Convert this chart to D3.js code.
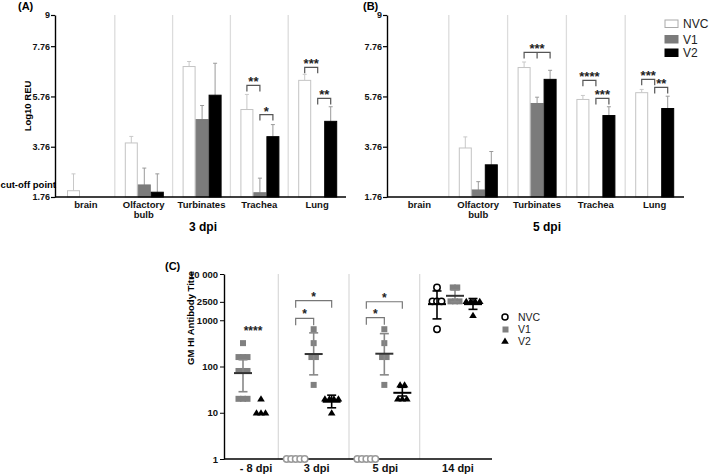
<!DOCTYPE html>
<html><head><meta charset="utf-8">
<script src="https://cdn.jsdelivr.net/npm/d3@7"></script>
<style>
html,body{margin:0;padding:0;background:#fff;}
svg{display:block;font-family:"Liberation Sans",Arial,sans-serif;}
</style></head>
<body><svg id="c" width="709" height="474"></svg>
<script>
// ---------- DATA ----------
const organs = ["brain", "Olfactory bulb", "Turbinates", "Trachea", "Lung"];
const groups = ["NVC", "V1", "V2"];
const reuTicks = [1.76, 3.76, 5.76, 7.76, 9];

// 3 dpi: bar top (Log10 REU) and top of error bar; null = not detected
const dpi3NVC    = [2.01, 3.91, 6.95, 5.24, 6.40];
const dpi3NVCerr = [2.68, 4.17, 7.15, 5.84, 6.64];
const dpi3V1     = [null, 2.24, 4.84, 1.93, null];
const dpi3V1err  = [null, 2.91, 5.40, 2.51, null];
const dpi3V2     = [null, 1.95, 5.81, 4.16, 4.77];
const dpi3V2err  = [null, 2.68, 7.08, 4.64, 5.35];

// 5 dpi
const dpi5NVC    = [null, 3.71, 6.91, 5.64, 5.91];
const dpi5NVCerr = [null, 4.15, 7.13, 5.80, 6.04];
const dpi5V1     = [null, 2.04, 5.48, null, null];
const dpi5V1err  = [null, 2.37, 5.73, null, null];
const dpi5V2     = [null, 3.04, 6.44, 5.00, 5.28];
const dpi5V2err  = [null, 3.57, 6.80, 5.35, 5.77];

// significance annotations (y = bracket height in Log10 REU)
const sig3 = [
  {organ: "Trachea", from: "NVC", to: "V1", y: 6.20, label: "**"},
  {organ: "Trachea", from: "V1",  to: "V2", y: 5.04, label: "*"},
  {organ: "Lung",    from: "NVC", to: "V1", y: 6.92, label: "***"},
  {organ: "Lung",    from: "V1",  to: "V2", y: 5.68, label: "**"}
];
const sig5 = [
  {organ: "Turbinates", from: "NVC", to: "V2", split: "V1", y: 7.51, label: "***"},
  {organ: "Trachea", from: "NVC", to: "V1", y: 6.40, label: "****"},
  {organ: "Trachea", from: "V1",  to: "V2", y: 5.68, label: "***"},
  {organ: "Lung",    from: "NVC", to: "V1", y: 6.44, label: "***"},
  {organ: "Lung",    from: "V1",  to: "V2", y: 6.12, label: "**"}
];

// Panel C: HI antibody titres
const titreDays = ["- 8 dpi", "3 dpi", "5 dpi", "14 dpi"];
const titreTicks = [1, 10, 100, 1000, 2500, 10000];
const titreTickLabels = ["1", "10", "100", "1000", "2500", "10 000"];
const nvcTitres = [[], [1, 1, 1, 1, 1], [1, 1, 1, 1, 1], [5120, 2560, 2560, 2560, 640]];
const v1Titres  = [[320, 160, 160, 160, 80, 80, 80, 20, 20, 20], [640, 320, 160, 160, 40], [640, 320, 160, 160, 40], [5120, 5120, 2560, 2560, 2560]];
const v2Titres  = [[20, 10, 10, 10], [20, 20, 20, 20, 10], [40, 40, 20, 20, 20], [2560, 2560, 2560, 2560, 1280]];
// geometric mean, lower, upper error
const nvcStats = [null, null, null, [2229, 1070, 4300]];
const v1Stats  = [[72, 28.5, 140], [186, 66, 534], [189, 66, 514], [3378, 2510, 4530]];
const v2Stats  = [null, [17.3, 12.8, 24], [27, 23, 35.5], [2229, 1720, 2950]];
const sigC = [
  {day: 0, from: "V1",  to: "V2", y: 480,  label: "****", noBracket: true},
  {day: 1, from: "NVC", to: "V1", y: 1100, label: "*"},
  {day: 1, from: "NVC", to: "V2", y: 2650, label: "*"},
  {day: 2, from: "NVC", to: "V1", y: 1135, label: "*"},
  {day: 2, from: "NVC", to: "V2", y: 2510, label: "*"}
];

// ---------- DRAW ----------
const svg = d3.select("#c");
const fill = {NVC: "#ffffff", V1: "#7b7b7b", V2: "#000000"};
const stroke = {NVC: "#c4c4c4", V1: "#7b7b7b", V2: "#000000"};
const errCol = {NVC: "#c8c8c8", V1: "#9a9a9a", V2: "#9a9a9a"};

function barPanel(cfg) {
  const g = svg.append("g");
  const y = d3.scaleLinear().domain([1.76, 9]).range([197, 15]);
  const x0 = d3.scaleBand().domain(organs).range(cfg.xr);
  const x1 = d3.scaleBand().domain(groups).range([10, 49]);
  const cx = (o, s) => x0(o) + x1(s) + x1.bandwidth() / 2;

  g.selectAll("line.div").data(organs.slice(1)).join("line")
    .attr("x1", d => x0(d)).attr("x2", d => x0(d))
    .attr("y1", y(9)).attr("y2", y(1.76))
    .attr("stroke", "#dcdcdc").attr("stroke-width", 1.3);

  const series = groups.map((s, k) => ({s, vals: cfg.vals[k], errs: cfg.errs[k]}));
  series.forEach(se => {
    const recs = organs.map((o, i) => ({o, v: se.vals[i], e: se.errs[i]})).filter(d => d.v != null);
    g.selectAll(null).data(recs).join("line")
      .attr("x1", d => cx(d.o, se.s)).attr("x2", d => cx(d.o, se.s))
      .attr("y1", d => y(d.v)).attr("y2", d => y(d.e))
      .attr("stroke", errCol[se.s]).attr("stroke-width", 1);
    g.selectAll(null).data(recs).join("line")
      .attr("x1", d => cx(d.o, se.s) - 2).attr("x2", d => cx(d.o, se.s) + 2)
      .attr("y1", d => y(d.e)).attr("y2", d => y(d.e))
      .attr("stroke", errCol[se.s]).attr("stroke-width", 1);
    g.selectAll(null).data(recs).join("rect")
      .attr("x", d => x0(d.o) + x1(se.s) + 0.5)
      .attr("width", x1.bandwidth() - 1)
      .attr("y", d => y(d.v))
      .attr("height", d => y(1.76) - y(d.v))
      .attr("fill", fill[se.s]).attr("stroke", stroke[se.s]).attr("stroke-width", 1);
  });

  const ya = g.append("g").attr("transform", `translate(${cfg.axisX},0)`)
    .call(d3.axisLeft(y).tickValues(reuTicks).tickFormat(d => d).tickSize(4).tickSizeOuter(0).tickPadding(1));
  ya.select(".domain").attr("stroke-width", 1.4);
  ya.selectAll(".tick line").attr("stroke-width", 1.2);
  ya.selectAll("text").attr("font-size", 9).attr("font-weight", "bold").attr("fill", "#111");

  const xa = g.append("g").attr("transform", `translate(0,${y(1.76)})`)
    .call(d3.axisBottom(x0).tickSize(0).tickPadding(4));
  xa.select(".domain").remove();
  xa.selectAll("text").attr("font-size", 9.5).attr("font-weight", "bold").attr("fill", "#111")
    .each(function(d) {
      const parts = d.split(" ");
      if (parts.length > 1) {
        const t = d3.select(this).text(null);
        parts.forEach((p, i) => t.append("tspan").attr("x", 0).attr("dy", i === 0 ? "0.71em" : "1.12em").text(p));
        t.attr("dy", null);
      }
    });
  g.append("line").attr("x1", cfg.axisX).attr("x2", cfg.xr[1]).attr("y1", y(1.76)).attr("y2", y(1.76))
    .attr("stroke", "#000").attr("stroke-width", 1.4);

  cfg.sig.forEach(s => {
    const xa_ = cx(s.organ, s.from), xb = cx(s.organ, s.to), yt = y(s.y);
    let d = `M${xa_},${yt + 6}V${yt}H${xb}V${yt + 6}`;
    if (s.split) d += `M${cx(s.organ, s.split)},${yt}V${yt + 6}`;
    g.append("path").attr("d", d).attr("fill", "none").attr("stroke", "#555").attr("stroke-width", 1.2);
    const mx = s.split ? cx(s.organ, s.split) : (xa_ + xb) / 2;
    g.append("text").attr("x", mx).attr("y", yt + 1).attr("text-anchor", "middle")
      .attr("font-size", 13).attr("font-weight", "bold").attr("fill", "#222").text(s.label);
  });

  g.append("text").attr("x", cfg.panelX).attr("y", 10).attr("font-size", 11).attr("font-weight", "bold").text(cfg.panel);
  g.append("text").attr("x", cfg.titleX).attr("y", 231).attr("text-anchor", "middle")
    .attr("font-size", 12).attr("font-weight", "bold").text(cfg.title);
  return {g, y};
}

const A = barPanel({
  xr: [57, 346], axisX: 55, panel: "(A)", panelX: 18, title: "3 dpi", titleX: 203,
  vals: [dpi3NVC, dpi3V1, dpi3V2], errs: [dpi3NVCerr, dpi3V1err, dpi3V2err], sig: sig3
});
A.g.append("text").attr("transform", "translate(31,106) rotate(-90)").attr("text-anchor", "middle")
  .attr("font-size", 9.5).attr("font-weight", "bold").text("Log10 REU");
A.g.append("text").attr("x", 56).attr("y", 188).attr("text-anchor", "end")
  .attr("font-size", 9.5).attr("font-weight", "bold").text("cut-off point");

const B = barPanel({
  xr: [390, 684], axisX: 387, panel: "(B)", panelX: 363, title: "5 dpi", titleX: 547,
  vals: [dpi5NVC, dpi5V1, dpi5V2], errs: [dpi5NVCerr, dpi5V1err, dpi5V2err], sig: sig5
});
const lg = B.g.append("g");
groups.forEach((s, i) => {
  const yy = [20, 35.5, 49][i];
  lg.append("rect").attr("x", 665).attr("y", yy).attr("width", 13).attr("height", 7.5)
    .attr("fill", fill[s]).attr("stroke", s === "NVC" ? "#aaa" : stroke[s]);
  lg.append("text").attr("x", 683).attr("y", yy + 8).attr("font-size", 12).attr("fill", "#222").text(s);
});

// ---------- PANEL C ----------
const gc = svg.append("g");
const yC = d3.scaleLog().domain([1, 10000]).range([459, 274]);
const xC = d3.scaleLinear().domain([0, 3]).range([243, 455]);
const off = {NVC: -18, V1: 0, V2: 18};
const xg = (day, s) => xC(day) + off[s];

gc.selectAll("line.div").data([0.5, 1.5, 2.5]).join("line")
  .attr("x1", d => xC(d)).attr("x2", d => xC(d))
  .attr("y1", yC(10000)).attr("y2", yC(1))
  .attr("stroke", "#dcdcdc").attr("stroke-width", 1.3);

const yca = gc.append("g").attr("transform", "translate(224,0)")
  .call(d3.axisLeft(yC).tickValues(titreTicks).tickFormat((d, i) => titreTickLabels[i]).tickSize(4).tickSizeOuter(0).tickPadding(2));
yca.select(".domain").attr("stroke-width", 1.4);
yca.selectAll("text").attr("font-size", 9.5).attr("font-weight", "bold").attr("fill", "#111");
gc.append("line").attr("x1", 224).attr("x2", 492).attr("y1", yC(1)).attr("y2", yC(1))
  .attr("stroke", "#000").attr("stroke-width", 1.4);
const labelNudge = [13, 3, 1, 3];
gc.selectAll("text.xl").data(titreDays).join("text")
  .attr("x", (d, i) => xC(i) + labelNudge[i]).attr("y", 472).attr("text-anchor", "middle")
  .attr("font-size", 11).attr("font-weight", "bold").attr("fill", "#111").text(d => d);

gc.append("text").attr("transform", "translate(193.5,318) rotate(-90)").attr("text-anchor", "middle")
  .attr("font-size", 9.5).attr("font-weight", "bold").text("GM HI Antibody Titre");
gc.append("text").attr("x", 165).attr("y", 270).attr("font-size", 11).attr("font-weight", "bold").text("(C)");

function spread(vals) {
  const cnt = d3.rollup(vals, v => v.length, d => d);
  const seen = new Map();
  return vals.map(v => {
    const k = cnt.get(v), j = seen.get(v) || 0; seen.set(v, j + 1);
    return {v, dx: (j - (k - 1) / 2) * 4.5};
  });
}
const tri = "M0,-3.6L3.8,2.7L-3.8,2.7Z";
function drawStats(day, s, st, col, capCol) {
  if (!st) return;
  const x = xg(day, s);
  gc.append("line").attr("x1", x).attr("x2", x).attr("y1", yC(st[1])).attr("y2", yC(st[2]))
    .attr("stroke", capCol).attr("stroke-width", 1.6);
  [st[1], st[2]].forEach(v => gc.append("line").attr("x1", x - 4.5).attr("x2", x + 4.5)
    .attr("y1", yC(v)).attr("y2", yC(v)).attr("stroke", capCol).attr("stroke-width", 1.6));
  gc.append("line").attr("x1", x - 9).attr("x2", x + 9).attr("y1", yC(st[0])).attr("y2", yC(st[0]))
    .attr("stroke", col).attr("stroke-width", 2);
}
titreDays.forEach((day, i) => {
  spread(nvcTitres[i]).forEach(p => gc.append("circle")
    .attr("cx", xg(i, "NVC") + p.dx).attr("cy", yC(p.v)).attr("r", 3.2)
    .attr("fill", "#fff").attr("stroke", p.v === 1 ? "#9a9a9a" : "#000").attr("stroke-width", 1.5));
  spread(v1Titres[i]).forEach(p => gc.append("rect")
    .attr("x", xg(i, "V1") + p.dx - 3).attr("y", yC(p.v) - 3).attr("width", 6).attr("height", 6)
    .attr("fill", "#808080"));
  spread(v2Titres[i]).forEach(p => gc.append("path")
    .attr("transform", `translate(${xg(i, "V2") + p.dx},${yC(p.v)})`).attr("d", tri).attr("fill", "#000"));
  drawStats(i, "NVC", nvcStats[i], "#000", "#000");
  drawStats(i, "V1", v1Stats[i], "#333", "#888");
  drawStats(i, "V2", v2Stats[i], "#000", "#000");
});

sigC.forEach(s => {
  const xa_ = xg(s.day, s.from), xb = xg(s.day, s.to), yt = yC(s.y);
  if (!s.noBracket) {
    gc.append("path").attr("d", `M${xa_},${yt + 7}V${yt}H${xb}V${yt + 7}`)
      .attr("fill", "none").attr("stroke", "#777").attr("stroke-width", 1.2);
  }
  gc.append("text").attr("x", (xa_ + xb) / 2 + (s.noBracket ? 1 : 0)).attr("y", yt)
    .attr("text-anchor", "middle").attr("font-size", 12).attr("font-weight", "bold").attr("fill", "#222").text(s.label);
});

const lc = gc.append("g");
lc.append("circle").attr("cx", 505).attr("cy", 317).attr("r", 3).attr("fill", "#fff").attr("stroke", "#000").attr("stroke-width", 1.5);
lc.append("rect").attr("x", 502.5).attr("y", 326.5).attr("width", 6).attr("height", 6).attr("fill", "#808080");
lc.append("path").attr("transform", "translate(505,341)").attr("d", tri).attr("fill", "#000");
groups.forEach((s, i) => lc.append("text").attr("x", 518).attr("y", [320.8, 333.2, 344.8][i])
  .attr("font-size", 10.5).attr("fill", "#222").text(s));
</script></body></html>
